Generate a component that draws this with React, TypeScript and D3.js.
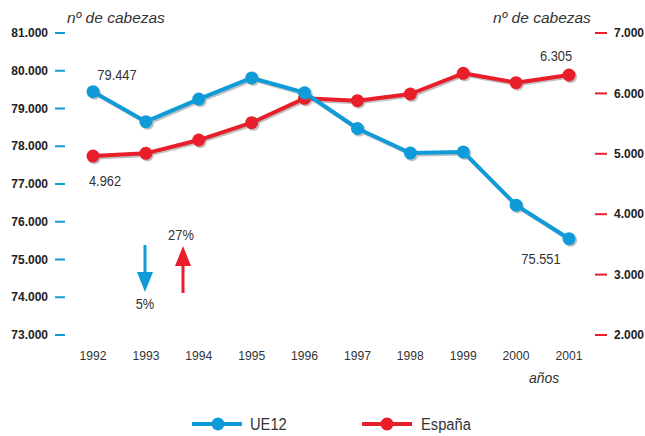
import React from "react";
import * as d3 from "d3";

const years = [1992, 1993, 1994, 1995, 1996, 1997, 1998, 1999, 2000, 2001];
const ue12 = [79447, 78650, 79250, 79810, 79420, 78470, 77820, 77850, 76440, 75551];
const espana = [4962, 5008, 5228, 5515, 5918, 5880, 5990, 6333, 6178, 6305];
const leftTicks = [73000, 74000, 75000, 76000, 77000, 78000, 79000, 80000, 81000];
const rightTicks = [2000, 3000, 4000, 5000, 6000, 7000];
const seriesNames = ["UE12", "España"];

const BLUE = "#0f9bd7";
const RED = "#e81e2a";
const fmt = (v: number) => d3.format(",")(v).replace(/,/g, ".");

function NText({ x, y, children, size = 14, sx = 0.92, anchor = "middle", italic = false }: any) {
  return (
    <text
      transform={`translate(${x},${y}) scale(${sx},1)`}
      textAnchor={anchor}
      fontSize={size}
      fontStyle={italic ? "italic" : "normal"}
      fill="#333"
    >
      {children}
    </text>
  );
}

export default function App() {
  const W = 645, H = 436;
  const x = d3.scalePoint<number>().domain(years).range([93, 569]);
  const yL = d3.scaleLinear().domain([73000, 81000]).range([335, 33]);
  const yR = d3.scaleLinear().domain([2000, 7000]).range([335, 33]);

  const lineL = d3.line<number>().x((_, i) => x(years[i])!).y((d) => yL(d));
  const lineR = d3.line<number>().x((_, i) => x(years[i])!).y((d) => yR(d));

  const font = "'Liberation Sans', Arial, sans-serif";
  const sh = 1.6;

  const drawSeries = (vals: number[], y: (v: number) => number, line: any, color: string) => (
    <g>
      <g transform={`translate(${sh},${sh})`} opacity={0.45}>
        <path d={line(vals)} fill="none" stroke="#777" strokeWidth={4} strokeLinejoin="round" />
        {vals.map((v, i) => (
          <circle key={i} cx={x(years[i])} cy={y(v)} r={6.5} fill="#777" />
        ))}
      </g>
      <path d={line(vals)} fill="none" stroke={color} strokeWidth={4} strokeLinejoin="round" />
      {vals.map((v, i) => (
        <circle key={i} cx={x(years[i])} cy={y(v)} r={6.5} fill={color} />
      ))}
    </g>
  );

  const last = years.length - 1;

  return (
    <svg width={W} height={H} style={{ position: "absolute", left: 0, top: 0, background: "#fff" }} fontFamily={font}>
      <rect width={W} height={H} fill="#fff" />
      {/* axis titles */}
      <text x={67} y={23} fontSize={15.5} fontStyle="italic" fill="#333">nº de cabezas</text>
      <text x={493} y={23} fontSize={15.5} fontStyle="italic" fill="#333">nº de cabezas</text>
      <text x={529} y={383} fontSize={14} fontStyle="italic" fill="#333">años</text>

      {/* left axis */}
      {leftTicks.map((t) => (
        <g key={t}>
          <line x1={55} x2={65} y1={yL(t)} y2={yL(t)} stroke={BLUE} strokeWidth={2} />
          <text x={48} y={yL(t)} dy="0.35em" textAnchor="end" fontSize={12} fontWeight="bold" fill="#222">{fmt(t)}</text>
        </g>
      ))}
      {/* right axis */}
      {rightTicks.map((t) => (
        <g key={t}>
          <line x1={595} x2={607} y1={yR(t)} y2={yR(t)} stroke={RED} strokeWidth={2} />
          <text x={614} y={yR(t)} dy="0.35em" textAnchor="start" fontSize={12} fontWeight="bold" fill="#222">{fmt(t)}</text>
        </g>
      ))}
      {/* x labels */}
      {years.map((yv) => (
        <NText key={yv} x={x(yv)} y={359.5} size={13.5} sx={0.9}>{yv}</NText>
      ))}

      {drawSeries(espana, yR, lineR, RED)}
      {drawSeries(ue12, yL, lineL, BLUE)}

      {/* value labels */}
      <NText x={x(years[0])! + 24} y={yL(ue12[0]) - 12}>{fmt(ue12[0])}</NText>
      <NText x={x(years[0])! + 12} y={yR(espana[0]) + 30}>{fmt(espana[0])}</NText>
      <NText x={x(years[last])! - 13} y={yR(espana[last]) - 14}>{fmt(espana[last])}</NText>
      <NText x={x(years[last])! - 28} y={yL(ue12[last]) + 25}>{fmt(ue12[last])}</NText>

      {/* arrows */}
      <line x1={145} x2={145} y1={245} y2={274} stroke={BLUE} strokeWidth={3} />
      <path d="M137,272 L153,272 L145,292 Z" fill={BLUE} />
      <NText x={145} y={309}>5%</NText>
      <line x1={183} x2={183} y1={264} y2={293} stroke={RED} strokeWidth={3} />
      <path d="M175,266 L191,266 L183,246 Z" fill={RED} />
      <NText x={181} y={240}>27%</NText>

      {/* legend */}
      <line x1={192} x2={242} y1={424} y2={424} stroke={BLUE} strokeWidth={4} />
      <circle cx={218} cy={424} r={6.5} fill={BLUE} />
      <NText x={250} y={429.5} size={16} sx={0.92} anchor="start">{seriesNames[0]}</NText>
      <line x1={362} x2={412} y1={424} y2={424} stroke={RED} strokeWidth={4} />
      <circle cx={387} cy={424} r={6.5} fill={RED} />
      <NText x={421} y={429.5} size={16} sx={0.92} anchor="start">{seriesNames[1]}</NText>
    </svg>
  );
}
